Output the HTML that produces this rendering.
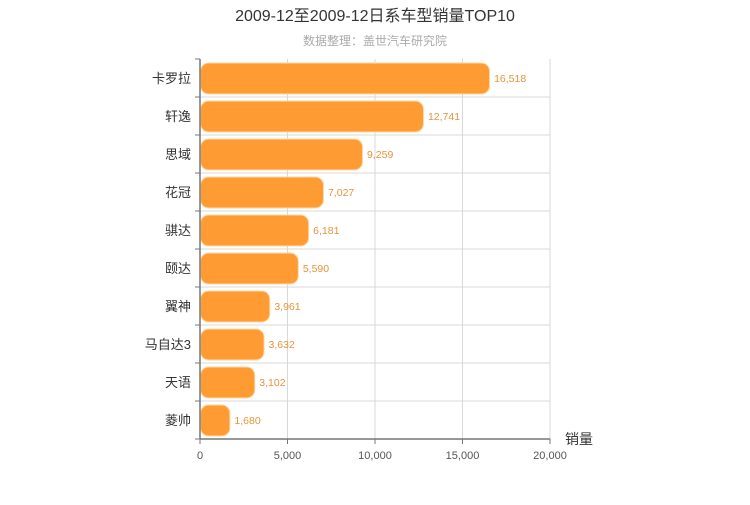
<!DOCTYPE html>
<html><head><meta charset="utf-8"><style>
body{margin:0;background:#fff;width:750px;height:500px;overflow:hidden}
text{font-family:"Liberation Sans","Noto Sans CJK SC",sans-serif}
</style></head><body>
<svg id="chart" width="750" height="500" xmlns="http://www.w3.org/2000/svg">
<text x="375" y="21" text-anchor="middle" font-size="16" fill="#333" font-family="Liberation Serif,Noto Serif CJK SC,serif">2009-12至2009-12日系车型销量TOP10</text>
<text x="375" y="45" text-anchor="middle" font-size="12" fill="#aaa">数据整理：盖世汽车研究院</text>
<g id="grid"></g><g id="bars"></g><g id="axes"></g>
</svg>
<script>
const categories=["卡罗拉","轩逸","思域","花冠","骐达","颐达","翼神","马自达3","天语","菱帅"];
const values=[16518,12741,9259,7027,6181,5590,3961,3632,3102,1680];
const ticks=[0,5000,10000,15000,20000];
const NS="http://www.w3.org/2000/svg";
const x0=200,x1=550,y0=59,y1=439,maxV=20000;
const xs=v=>x0+(v/maxV)*(x1-x0);
const rowH=(y1-y0)/categories.length;
const fmt=v=>v.toLocaleString('en-US');
function mk(tag,attrs,parent){const e=document.createElementNS(NS,tag);for(const k in attrs)e.setAttribute(k,attrs[k]);parent.appendChild(e);return e;}
const grid=document.getElementById('grid'),bars=document.getElementById('bars'),axes=document.getElementById('axes');
ticks.forEach(t=>{
  const l=mk('line',{x1:xs(t),x2:xs(t),y1:y0,y2:y1,stroke:'#d8d8d8'},grid);
  
  
  const tk=mk('line',{x1:xs(t),x2:xs(t),y1:y1,y2:y1+5,stroke:'#777'},axes);
  
  
  const tx=mk('text',{x:xs(t),y:y1+20,'text-anchor':'middle','font-size':11,fill:'#555'},axes);
  tx.textContent=fmt(t);
  
  
});
categories.forEach((c,i)=>{
  const top=y0+i*rowH;
  if(i>0){const g=mk('line',{x1:x0,x2:x1,y1:top,y2:top,stroke:'#d8d8d8'},grid);
  
  }
  const b=mk('rect',{x:x0+0.5,y:top+4,width:xs(values[i])-x0,height:rowH-7,rx:8,fill:'#ff9b33',stroke:'#ffd9a8','stroke-width':1},bars);
  
  
  const v=mk('text',{x:xs(values[i])+5,y:top+rowH/2+4,'font-size':10.5,fill:'#e8933a'},bars);
  v.textContent=fmt(values[i]);
  
  
  const lab=mk('text',{x:x0-9,y:top+rowH/2+5,'text-anchor':'end','font-size':13,fill:'#333'},axes);
  lab.textContent=c;
  
  
});
for(let i=0;i<=categories.length;i++){
  const t=mk('line',{x1:x0-5,x2:x0,y1:y0+i*rowH,y2:y0+i*rowH,stroke:'#777'},axes);
  
  
}
const ya=mk('line',{x1:x0,x2:x0,y1:y0,y2:y1,stroke:'#777','stroke-width':1.5},axes);


const xa=mk('line',{x1:x0,x2:x1,y1:y1,y2:y1,stroke:'#777','stroke-width':1.5},axes);


const xt=mk('text',{x:565,y:444,'font-size':14,fill:'#333'},axes);
xt.textContent='销量';


</script>
</body></html>
